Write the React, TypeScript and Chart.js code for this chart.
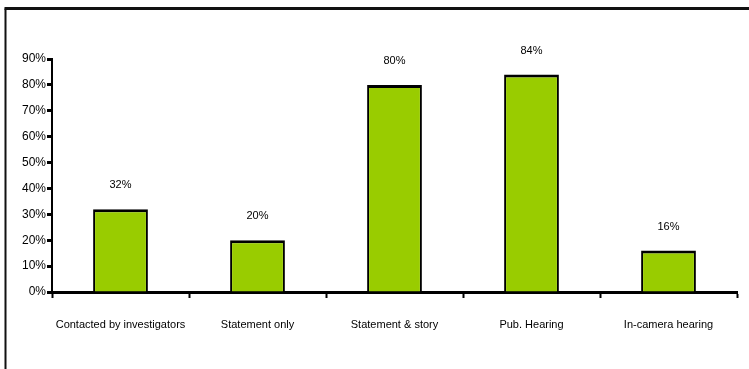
import React, { useEffect, useRef } from "react";
import { Chart, registerables } from "chart.js";

Chart.register(...registerables);

const categories = [
  "Contacted by investigators",
  "Statement only",
  "Statement & story",
  "Pub. Hearing",
  "In-camera hearing",
];
const percentages = [32, 20, 80, 84, 16];
const yTicks = [0, 10, 20, 30, 40, 50, 60, 70, 80, 90];

const FONT = "'Liberation Sans Narrow', 'Arial Narrow', 'Liberation Sans', Arial, sans-serif";

// Outer frame around the chart (open on the right and bottom edges)
const framePlugin = {
  id: "frame",
  beforeDraw(chart: any) {
    const ctx = chart.ctx;
    ctx.save();
    ctx.fillStyle = "#ffffff";
    ctx.fillRect(0, 0, chart.width, chart.height);
    ctx.strokeStyle = "#111111";
    ctx.beginPath();
    ctx.lineWidth = 2;
    ctx.moveTo(5.5, 8.5);
    ctx.lineTo(5.5, chart.height + 5);
    ctx.stroke();
    ctx.beginPath();
    ctx.lineWidth = 3;
    ctx.moveTo(4.5, 8.5);
    ctx.lineTo(chart.width + 5, 8.5);
    ctx.stroke();
    ctx.restore();
  },
};

// Percentage labels above each bar
const valueLabelPlugin = {
  id: "valueLabels",
  afterDatasetsDraw(chart: any) {
    const ctx = chart.ctx;
    const meta = chart.getDatasetMeta(0);
    ctx.save();
    ctx.font = `11px ${FONT}`;
    ctx.fillStyle = "#000000";
    ctx.textAlign = "center";
    ctx.textBaseline = "middle";
    meta.data.forEach((bar: any, i: number) => {
      ctx.fillText(`${percentages[i]}%`, bar.x, bar.y - 24);
    });
    ctx.restore();
  },
};

export default function App() {
  const canvasRef = useRef<HTMLCanvasElement | null>(null);

  useEffect(() => {
    if (!canvasRef.current) return;
    const chart = new Chart(canvasRef.current, {
      type: "bar",
      data: {
        labels: categories,
        datasets: [
          {
            data: percentages,
            backgroundColor: "#99cc00",
            borderColor: "#000000",
            borderWidth: { top: 3, left: 2, right: 2, bottom: 0 },
            borderSkipped: "bottom",
            barPercentage: 0.4,
            categoryPercentage: 1,
          },
        ],
      },
      options: {
        animation: false,
        responsive: false,
        maintainAspectRatio: false,
        devicePixelRatio: 1,
        layout: { padding: { top: 59, right: 12, left: 0, bottom: 0 } },
        plugins: {
          legend: { display: false },
          tooltip: { enabled: false },
          title: { display: false },
        },
        scales: {
          x: {
            grid: {
              offset: true,
              drawOnChartArea: false,
              drawTicks: true,
              tickLength: 6,
              tickWidth: 2,
              tickColor: "#000000",
            },
            border: { display: true, color: "#000000", width: 3 },
            ticks: {
              color: "#000000",
              font: { family: FONT, size: 11 },
              padding: 20,
              maxRotation: 0,
              autoSkip: false,
            },
            afterFit(scale: any) {
              scale.height = 369 - 292;
            },
          },
          y: {
            min: 0,
            max: 90,
            afterBuildTicks(scale: any) {
              scale.ticks = yTicks.map((v) => ({ value: v }));
            },
            grid: {
              drawOnChartArea: false,
              drawTicks: true,
              tickLength: 5,
              tickWidth: 3,
              tickColor: "#000000",
            },
            border: { display: true, color: "#000000", width: 2 },
            ticks: {
              color: "#000000",
              font: { family: FONT, size: 12 },
              padding: 1,
              callback: (v: any) => `${v}%`,
            },
            afterFit(scale: any) {
              scale.width = 52;
            },
          },
        },
      },
      plugins: [framePlugin, valueLabelPlugin],
    });
    return () => chart.destroy();
  }, []);

  return (
    <div style={{ position: "absolute", left: 0, top: 0, width: 749, height: 369 }}>
      <canvas ref={canvasRef} width={749} height={369} style={{ display: "block" }} />
    </div>
  );
}
